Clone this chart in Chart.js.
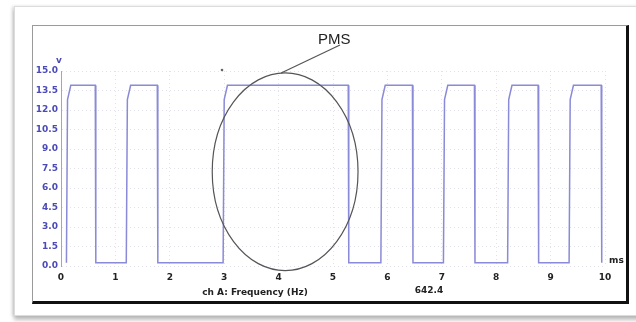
<!DOCTYPE html>
<html>
<head>
<meta charset="utf-8">
<script src="https://cdn.jsdelivr.net/npm/chart.js"></script>
<style>
  html, body { margin: 0; padding: 0; background: #fff; }
  body { width: 636px; height: 322px; position: relative; overflow: hidden; font-family: "Liberation Sans", Arial, sans-serif; }
  .card {
    position: absolute; left: 14px; top: 6px; width: 640px; height: 308px;
    background: #fff; border: 1px solid #dcdcdc;
    box-shadow: 0 4px 4px rgba(0,0,0,0.25), -2px 0 3px rgba(0,0,0,0.12);
  }
  .scope {
    position: absolute; left: 32px; top: 25px; width: 593px; height: 275px;
    border-top: 1px solid #9a9a9a; border-left: 1px solid #9a9a9a;
    border-right: 3px solid #111; border-bottom: 3px solid #111;
    background: #fff;
  }
  #chart { position: absolute; left: 0; top: 0; }
</style>
</head>
<body>
<div class="card"></div>
<div class="scope"></div>
<canvas id="chart" width="636" height="322"></canvas>
<script>
// 파형 데이터 (ms, V)
const timeMs = [0.10, 0.12, 0.18, 0.63, 0.64, 1.20, 1.22, 1.28, 1.77, 1.78, 2.98, 3.00, 3.06, 5.28, 5.29,
  5.88, 5.90, 5.96, 6.46, 6.47, 7.03, 7.05, 7.11, 7.60, 7.61, 8.21, 8.23, 8.29, 8.77, 8.78,
  9.34, 9.36, 9.42, 9.93, 9.94];
const volts = [0.25, 12.8, 13.9, 13.9, 0.25, 0.25, 12.8, 13.9, 13.9, 0.25, 0.25, 12.8, 13.9, 13.9, 0.25,
  0.25, 12.8, 13.9, 13.9, 0.25, 0.25, 12.8, 13.9, 13.9, 0.25, 0.25, 12.8, 13.9, 13.9, 0.25,
  0.25, 12.8, 13.9, 13.9, 0.25];
const xTicks = [0, 1, 2, 3, 4, 5, 6, 7, 8, 9, 10];
const yTicks = [0.0, 1.5, 3.0, 4.5, 6.0, 7.5, 9.0, 10.5, 12.0, 13.5, 15.0];
const freqLabel = 'ch A: Frequency (Hz)';
const freqValue = '642.4';
const pmsLabel = 'PMS';
// PMS 타원 (중심, 반지름) - 데이터 단위
const pmsEllipse = { x: 4.12, y: 7.25, rx: 1.34, ry: 7.6 };

const points = timeMs.map((t, i) => ({ x: t, y: volts[i] }));

// 주석 플러그인: 단위, 채널 텍스트, 타원
const notes = {
  id: 'notes',
  afterDatasetsDraw(chart) {
    const { ctx, chartArea: a, scales: { x, y } } = chart;
    ctx.save();
    ctx.fillStyle = '#4a4ab8';
    ctx.font = 'bold 9px "DejaVu Sans", sans-serif';
    ctx.textAlign = 'center';
    ctx.fillText('v', a.left - 2, a.top - 8);
    ctx.fillStyle = '#222';
    ctx.textAlign = 'left';
    ctx.fillText('ms', a.right + 4, a.bottom - 3);
    ctx.textAlign = 'center';
    ctx.fillText(freqLabel, 255, 295);
    ctx.fillText(freqValue, 429, 293);

    // 타원
    const cx = x.getPixelForValue(pmsEllipse.x);
    const cy = y.getPixelForValue(pmsEllipse.y);
    const rx = x.getPixelForValue(pmsEllipse.x + pmsEllipse.rx) - cx;
    const ry = cy - y.getPixelForValue(pmsEllipse.y + pmsEllipse.ry);
    ctx.strokeStyle = '#555';
    ctx.lineWidth = 1.2;
    ctx.beginPath();
    ctx.ellipse(cx, cy, rx, ry, 0, 0, Math.PI * 2);
    ctx.stroke();
    ctx.beginPath();
    ctx.moveTo(cx - 4, cy - ry);
    ctx.lineTo(340, 45);
    ctx.stroke();

    ctx.fillStyle = '#222';
    ctx.font = '15px "Liberation Sans", Arial, sans-serif';
    ctx.textAlign = 'left';
    ctx.fillText(pmsLabel, 318, 44);

    ctx.fillStyle = '#666';
    ctx.beginPath();
    ctx.arc(222, 70, 1.3, 0, Math.PI * 2);
    ctx.fill();
    ctx.restore();
  }
};

new Chart(document.getElementById('chart'), {
  type: 'line',
  data: {
    datasets: [{
      data: points,
      borderColor: '#8a8ad8',
      borderWidth: 1.5,
      pointRadius: 0,
      tension: 0,
      fill: false
    }]
  },
  options: {
    responsive: false,
    animation: false,
    plugins: { legend: { display: false }, tooltip: { enabled: false } },
    layout: { padding: { left: 30, top: 71, right: 31, bottom: 38 } },
    scales: {
      x: {
        type: 'linear', min: 0, max: 10,
        afterFit: s => { s.height = 18; },
        afterBuildTicks: s => { s.ticks = xTicks.map(v => ({ value: v })); },
        grid: { color: 'rgba(190,190,215,0.45)', drawTicks: false, tickBorderDash: [1, 2] },
        border: { display: false, dash: [1, 3] },
        ticks: { color: '#222', font: { size: 9, weight: 'bold', family: '"DejaVu Sans", sans-serif' }, padding: 6, maxRotation: 0 }
      },
      y: {
        min: 0, max: 15,
        afterFit: s => { s.width = 31; },
        afterBuildTicks: s => { s.ticks = yTicks.map(v => ({ value: v })); },
        grid: { color: 'rgba(190,190,215,0.45)', drawTicks: false },
        border: { display: true, color: '#a0a0e0', width: 1, dash: [1, 3] },
        ticks: { color: '#4a4ab8', font: { size: 9, weight: 'bold', family: '"DejaVu Sans", sans-serif' }, padding: 3, callback: v => v.toFixed(1) }
      }
    }
  },
  plugins: [notes]
});
</script>
</body>
</html>
